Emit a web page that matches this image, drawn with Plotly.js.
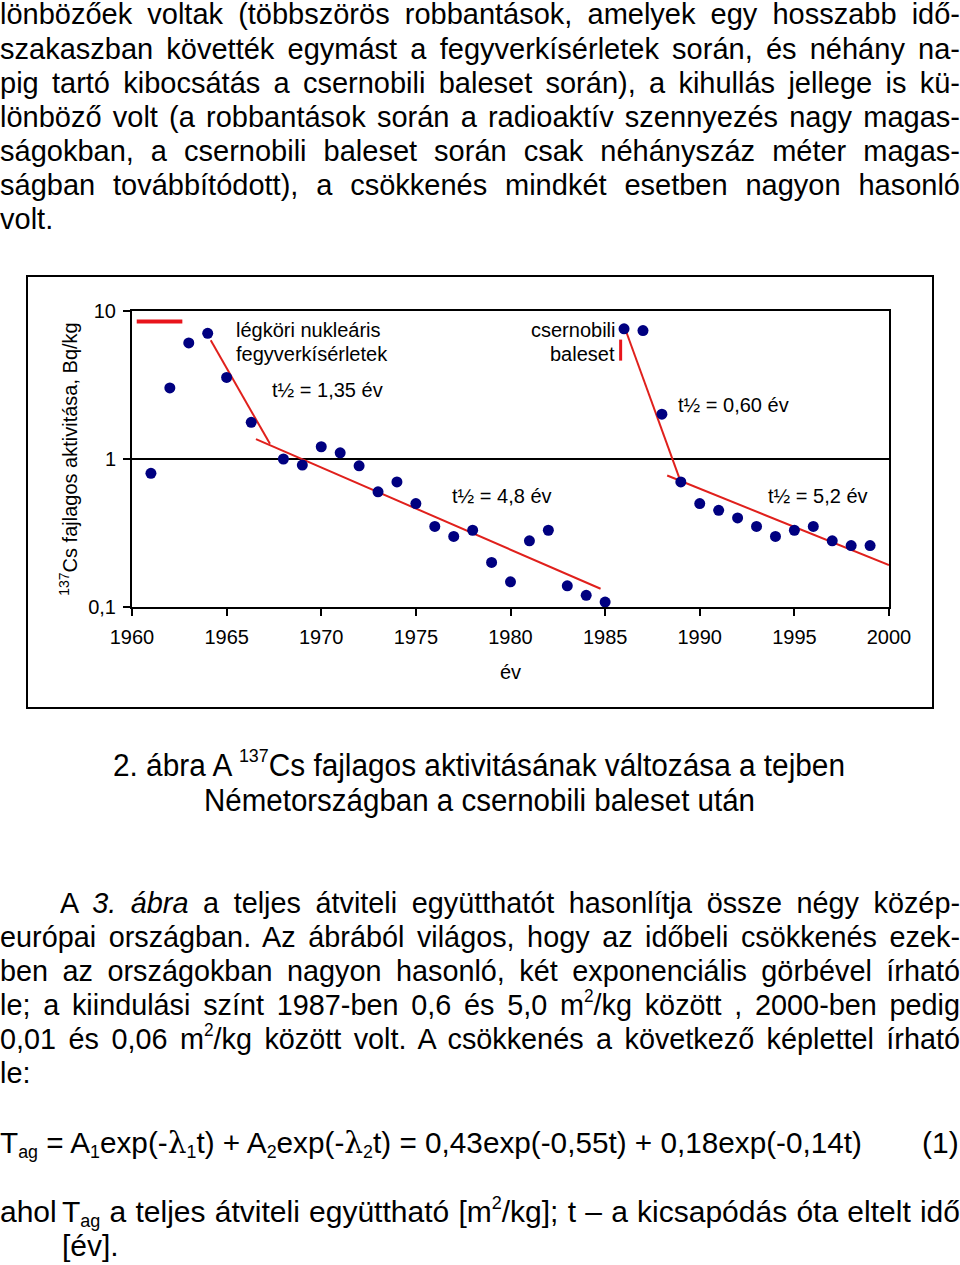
<!DOCTYPE html>
<html>
<head>
<meta charset="utf-8">
<script src="https://cdn.plot.ly/plotly-3.0.1.min.js"></script>
<style>
  html, body { margin:0; padding:0; background:#fff; }
  body { width:960px; height:1265px; position:relative; overflow:hidden; font-family:"Liberation Sans", Arial, sans-serif; color:#000; }
  .ln { position:absolute; color:#000; font-family:"Liberation Sans", Arial, sans-serif; }
  .ln sup { font-size:0.6em; vertical-align:0.75em; line-height:0; }
  .ln sub { font-size:0.6em; vertical-align:-0.25em; line-height:0; }
  .lam { font-family:"DejaVu Serif","Liberation Serif",serif; }
  #frame { position:absolute; left:26px; top:275px; width:908px; height:434px; border:2px solid #000; box-sizing:border-box; }
  #chart { position:absolute; left:27px; top:276px; width:906px; height:432px; }
</style>
</head>
<body>
<div id="frame"></div>
<div id="chart"></div>
<script>
// ---------------- data ----------------
const years = [1961, 1962, 1963, 1964, 1965, 1966.3, 1968, 1969, 1970, 1971, 1972, 1973, 1974, 1975, 1976, 1977, 1978, 1979, 1980, 1981, 1982, 1983, 1984, 1985, 1986, 1987, 1988, 1989, 1990, 1991, 1992, 1993, 1994, 1995, 1996, 1997, 1998, 1999];
const activity = [0.80, 3.02, 6.09, 7.07, 3.56, 1.77, 1.00, 0.91, 1.21, 1.10, 0.90, 0.60, 0.70, 0.50, 0.35, 0.30, 0.33, 0.20, 0.148, 0.28, 0.33, 0.139, 0.120, 0.108, 7.58, 7.38, 2.01, 0.70, 0.50, 0.45, 0.40, 0.35, 0.30, 0.33, 0.35, 0.28, 0.26, 0.26];

// fitted decay lines (end points)
const fitA_x = [1964.16, 1967.29];   // t1/2 = 1,35 év
const fitA_y = [6.34, 1.267];
const fitB_x = [1966.55, 1984.76];   // t1/2 = 4,8 év
const fitB_y = [1.364, 0.1328];
const fitC_x = [1986.01, 1988.99];   // t1/2 = 0,60 év
const fitC_y = [7.89, 0.704];
const fitD_x = [1988.28, 2000.0];    // t1/2 = 5,2 év
const fitD_y = [0.773, 0.192];

// short red marks (legend bar and accident marker)
const barX = [1960.25, 1962.66];
const barY = [8.49, 8.49];
const accidentX = [1985.82, 1985.82];
const accidentY = [6.41, 4.62];

const xTicks = [1960, 1965, 1970, 1975, 1980, 1985, 1990, 1995, 2000];
const yTickVals = [0.1, 1, 10];
const yTickText = ['0,1', '1', '10'];

const labels = [
  {text: 'légköri nukleáris', x: 1965.4, y: 7.40, anchor: 'left'},
  {text: 'fegyverkísérletek', x: 1965.4, y: 5.10, anchor: 'left'},
  {text: 't½ = 1,35 év', x: 1967.28, y: 2.94, anchor: 'left'},
  {text: 'csernobili', x: 1985.62, y: 7.40, anchor: 'right'},
  {text: 'baleset', x: 1985.62, y: 5.10, anchor: 'right'},
  {text: 't½ = 0,60 év', x: 1988.75, y: 2.33, anchor: 'left'},
  {text: 't½ = 4,8 év', x: 1976.8, y: 0.563, anchor: 'left'},
  {text: 't½ = 5,2 év', x: 1993.5, y: 0.563, anchor: 'left'}
];

// ---------------- chart ----------------
const RED = '#e0201c';
const FONT = 'Liberation Sans, Arial, sans-serif';
const traces = [
  {x: fitA_x, y: fitA_y, mode: 'lines', line: {color: RED, width: 2}},
  {x: fitB_x, y: fitB_y, mode: 'lines', line: {color: RED, width: 2}},
  {x: fitC_x, y: fitC_y, mode: 'lines', line: {color: RED, width: 2}},
  {x: fitD_x, y: fitD_y, mode: 'lines', line: {color: RED, width: 2}},
  {x: barX, y: barY, mode: 'lines', line: {color: '#e8141b', width: 4}},
  {x: accidentX, y: accidentY, mode: 'lines', line: {color: '#e8141b', width: 3}},
  {x: years, y: activity, mode: 'markers', marker: {color: '#000080', size: 11}, cliponaxis: false}
];

const layout = {
  width: 906, height: 432,
  margin: {l: 105, r: 44, t: 35, b: 101},
  paper_bgcolor: 'rgba(0,0,0,0)',
  plot_bgcolor: '#fff',
  showlegend: false,
  font: {family: FONT, size: 20, color: '#000'},
  xaxis: {
    range: [1960, 2000], tickvals: xTicks, ticktext: xTicks.map(String),
    showline: true, linecolor: '#000', linewidth: 2, mirror: true,
    ticks: 'outside', ticklen: 7, tickwidth: 2, tickcolor: '#000',
    ticklabelstandoff: 4,
    showgrid: false, zeroline: false,
    tickfont: {family: FONT, size: 20, color: '#000'},
    title: {text: 'év', font: {family: FONT, size: 20, color: '#000'}, standoff: 18}
  },
  yaxis: {
    type: 'log', range: [-1, 1], tickvals: yTickVals, ticktext: yTickText,
    showline: true, linecolor: '#000', linewidth: 2, mirror: true,
    ticks: 'outside', ticklen: 7, tickwidth: 2, tickcolor: '#000',
    ticklabelstandoff: 3,
    showgrid: true, gridcolor: '#000', gridwidth: 2, zeroline: false,
    tickfont: {family: FONT, size: 20, color: '#000'},
    title: {text: '<sup>137</sup>Cs fajlagos aktivitása, Bq/kg', font: {family: FONT, size: 20, color: '#000'}, standoff: 5}
  },
  annotations: labels.map(l => ({
    x: l.x, y: Math.log10(l.y), xref: 'x', yref: 'y', text: l.text,
    showarrow: false, xanchor: l.anchor, yanchor: 'middle',
    font: {family: FONT, size: 20, color: '#000'}
  }))
};

Plotly.newPlot('chart', traces, layout, {staticPlot: true, displayModeBar: false});

// ---------------- page text ----------------
const topLines = [
  'lönbözőek voltak (többszörös robbantások, amelyek egy hosszabb idő-',
  'szakaszban követték egymást a fegyverkísérletek során, és néhány na-',
  'pig tartó kibocsátás a csernobili baleset során), a kihullás jellege is kü-',
  'lönböző volt (a robbantások során a radioaktív szennyezés nagy magas-',
  'ságokban, a csernobili baleset során csak néhányszáz méter magas-',
  'ságban továbbítódott), a csökkenés mindkét esetben nagyon hasonló',
  'volt.'
];
const captionLines = [
  '2. ábra A <sup>137</sup>Cs fajlagos aktivitásának változása a tejben',
  'Németországban a csernobili baleset után'
];
const bottomLines = [
  'A <i>3. ábra</i> a teljes átviteli együtthatót hasonlítja össze négy közép-',
  'európai országban. Az ábrából világos, hogy az időbeli csökkenés ezek-',
  'ben az országokban nagyon hasonló, két exponenciális görbével írható',
  'le; a kiindulási színt 1987-ben 0,6 és 5,0 m<sup>2</sup>/kg között , 2000-ben pedig',
  '0,01 és 0,06 m<sup>2</sup>/kg között volt. A csökkenés a következő képlettel írható',
  'le:'
];
const formula = 'T<sub>ag</sub> = A<sub>1</sub>exp(-<span class="lam">λ</span><sub>1</sub>t) + A<sub>2</sub>exp(-<span class="lam">λ</span><sub>2</sub>t) = 0,43exp(-0,55t) + 0,18exp(-0,14t)';
const aholText = 'T<sub>ag</sub> a teljes átviteli együttható [m<sup>2</sup>/kg]; t – a kicsapódás óta eltelt idő';

function addLine(html, o) {
  const F = o.size || 30, LH = Math.round(F * 1.2);
  const d = document.createElement('div');
  d.className = 'ln';
  d.innerHTML = html;
  d.style.fontSize = F + 'px';
  d.style.lineHeight = LH + 'px';
  d.style.whiteSpace = 'nowrap';
  d.style.left = o.left + 'px';
  const baseOff = (LH - 1.117 * F) / 2 + 0.905 * F;
  d.style.top = (o.baseline - baseOff) + 'px';
  document.body.appendChild(d);
  const w = d.getBoundingClientRect().width;
  const target = o.right - o.left;
  let s = o.scale || 1;
  if (o.fit) s = target / w;
  if (o.justify) {
    if (w * s > target - 1) s = (target - 1) / w;
    d.style.whiteSpace = 'normal';
    d.style.width = (target / s) + 'px';
    d.style.textAlign = 'justify';
    d.style.textAlignLast = 'justify';
  }
  d.style.transformOrigin = '0 0';
  d.style.transform = 'scaleX(' + s + ')';
}

topLines.forEach((t, i) => {
  addLine(t, {left: 0, right: 960, baseline: 25 + 34.17 * i, justify: i < 6, size: 29});
});
addLine(captionLines[0], {left: 113, right: 845, baseline: 776, fit: true, size: 31});
addLine(captionLines[1], {left: 204, right: 755, baseline: 811, fit: true, size: 31});
bottomLines.forEach((t, i) => {
  addLine(t, {left: i === 0 ? 60 : 0, right: 960, baseline: 913 + 34 * i, justify: i < 5, scale: 0.96, size: 30});
});
addLine(formula, {left: 0, right: 862, baseline: 1153, fit: true});
addLine('(1)', {left: 922, right: 958, baseline: 1153});
addLine('ahol', {left: 0, right: 56, baseline: 1222});
addLine(aholText, {left: 62, right: 960, baseline: 1222, justify: true});
addLine('[év].', {left: 62, right: 120, baseline: 1256});
</script>
</body>
</html>
